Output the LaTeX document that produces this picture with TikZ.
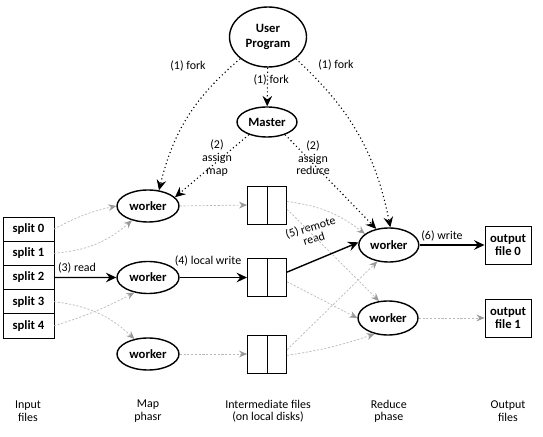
\documentclass[tikz,border=0pt]{standalone}
\usepackage{fontspec}
\setmainfont{Carlito}
\usetikzlibrary{arrows.meta,shapes.geometric,positioning}

\begin{document}
\begin{tikzpicture}[
  proc/.style={ellipse,draw,line width=1pt,inner sep=0pt,minimum width=1.55cm,minimum height=0.8cm,align=center,font=\fontsize{9pt}{10pt}\selectfont\bfseries},
  splitbox/.style={rectangle,draw,line width=0.7pt,outer sep=0pt,inner sep=0pt,minimum width=1.275cm,minimum height=0.605cm,font=\fontsize{9pt}{10pt}\selectfont\bfseries},
  filebox/.style={rectangle,draw,line width=0.7pt,inner sep=0pt,minimum width=0.975cm,minimum height=0.95cm},
  outbox/.style={rectangle,draw,line width=0.7pt,inner sep=0pt,minimum width=1.15cm,minimum height=0.95cm,align=center,font=\fontsize{9pt}{9pt}\selectfont\bfseries},
  lbl/.style={align=center,inner sep=1pt,font=\fontsize{8.5pt}{9pt}\selectfont},
  mainflow/.style={line width=1pt,-{Stealth[length=2.6mm,width=2.4mm,inset=0.9mm]}},
  forkflow/.style={dotted,line width=0.8pt,-{Stealth[length=2.6mm,width=2.4mm,inset=0.9mm]}},
  sideflow/.style={gray!55,line width=0.5pt,dash pattern=on 1.5pt off 1.2pt,-{Stealth[length=2mm,width=1.7mm,inset=0.7mm,color=gray!80]}}
]
\useasboundingbox (0, 0) rectangle (13.575, -10.925);

% user program and master
\node (up) at (6.7, -0.925) [proc, minimum width=1.925cm, minimum height=1.5cm] {User\\Program};
\node (master) at (6.675, -3.05) [proc, minimum width=1.5cm, minimum height=0.75cm] {Master};

% input splits
\node (s0) at (0.7125, -5.7275) [splitbox] {split 0};
\node (s1) [splitbox, below=0pt of s0] {split 1};
\node (s2) [splitbox, below=0pt of s1] {split 2};
\node (s3) [splitbox, below=0pt of s2] {split 3};
\node (s4) [splitbox, below=0pt of s3] {split 4};

% map workers
\node (w1) at (3.7, -5.15) [proc] {worker};
\node (w2) at (3.7, -6.9375) [proc] {worker};
\node (w3) at (3.7, -8.85) [proc] {worker};

% intermediate files
\node (f1) at (6.675, -5.125) [filebox] {};
\node (f2) at (6.675, -6.9375) [filebox] {};
\node (f3) at (6.675, -8.85) [filebox] {};
\foreach \f in {f1,f2,f3}
  \draw [line width=0.7pt] (\f.north) -- (\f.south);

% reduce workers and output files
\node (r1) at (9.72, -6.125) [proc, minimum width=1.5cm, minimum height=0.85cm] {worker};
\node (r2) at (9.7, -7.95) [proc, minimum width=1.5cm, minimum height=0.85cm] {worker};
\node (o0) at (12.7, -6.125) [outbox] {output\\file 0};
\node (o1) at (12.7, -7.95) [outbox] {output\\file 1};

% labels
\node (lfork1) at (4.7, -1.65) [lbl] {(1) fork};
\node (lfork2) at (6.78, -2.0) [lbl] {(1) fork};
\node (lfork3) at (8.4, -1.625) [lbl] {(1) fork};
\node (lmap) at (5.425, -3.95) [lbl] {(2)\\assign\\map};
\node (lred) at (7.825, -3.95) [lbl] {(2)\\assign\\reduce};
\node (lread) at (1.925, -6.7) [lbl] {(3) read};
\node (lwrite) at (5.2, -6.525) [lbl] {(4) local write};
\node (lremote) at (7.8, -5.82) [lbl, rotate=17, font=\fontsize{8.5pt}{8.5pt}\selectfont] {(5) remote\\read};
\node (lout) at (11.05, -5.9) [lbl] {(6) write};

% phase captions
\node (cin) at (0.7, -10.28) [lbl] {Input\\files};
\node (cmap) at (3.7, -10.28) [lbl] {Map\\phasr};
\node (cmid) at (6.7, -10.28) [lbl] {Intermediate files\\(on local disks)};
\node (cred) at (9.72, -10.28) [lbl] {Reduce\\phase};
\node (cout) at (12.7, -10.28) [lbl] {Output\\files};

% fork and assign
\draw [forkflow] (up) -- (master);
\draw [forkflow] (up.218) to[bend right=18] (w1.55);
\draw [forkflow] (up.322) to[bend left=18] (r1.85);
\draw [forkflow] (master.215) -- (w1.18);
\draw [forkflow] (master.325) -- (r1.128);

% map side
\draw [sideflow] (s0.east) to[bend left=8] (w1.west);
\draw [sideflow] (s1.east) to[bend right=18] (w1.222);
\draw [mainflow] (s2.east) -- (w2.west);
\draw [sideflow] (s3.east) to[bend left=18] (w3.132);
\draw [sideflow] (s4.east) to[bend right=5] (w2.228);
\draw [sideflow] (w1.east) -- (f1.west);
\draw [mainflow] (w2.east) -- (f2.west);
\draw [sideflow] (w3.east) -- (f3.west);

% reduce side
\draw [sideflow] (f1.10) to[bend left=15] (r1.155);
\draw [sideflow] (f1.-12) -- (r2.118);
\draw [mainflow] (f2.15) -- (r1.175);
\draw [sideflow] (f2.-12) -- (r2.180);
\draw [sideflow] (f3.12) -- (r1.235);
\draw [sideflow] (f3.-4) to[bend right=5] (r2.230);
\draw [mainflow] (r1.east) -- (o0.west);
\draw [sideflow] (r2.east) -- (o1.west);
\end{tikzpicture}
\end{document}
